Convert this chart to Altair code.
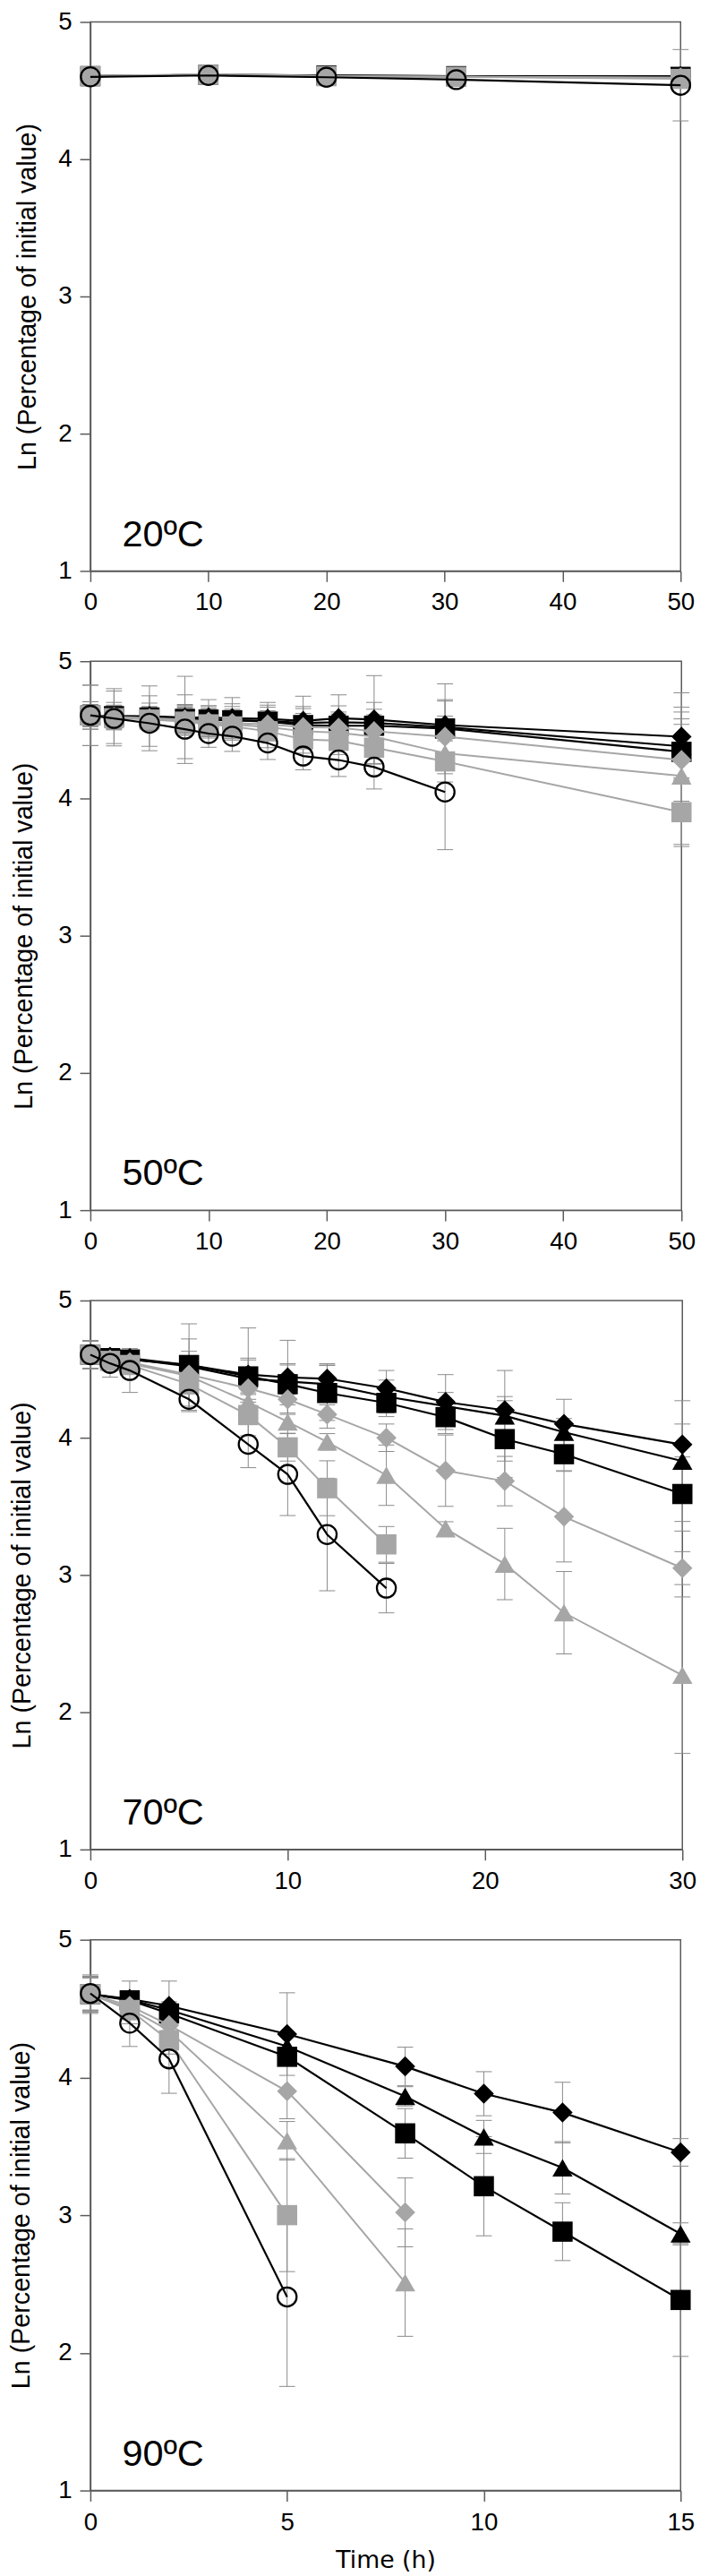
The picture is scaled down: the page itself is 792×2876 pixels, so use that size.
import altair as alt
import pandas as pd

# ---------------- data ----------------
SERIES = ["black_diamond", "black_triangle", "black_square",
          "gray_diamond", "gray_triangle", "gray_square", "open_circle"]
TEMPS = ["20ºC", "50ºC", "70ºC", "90ºC"]
Y_TITLE = "Ln (Percentage of initial value)"
X_TITLE = "Time (h)"

# 20 ºC
T20 = [0, 10, 20, 31, 50]
V20_bd = [4.605, 4.615, 4.61, 4.605, 4.605]
V20_bt = [4.605, 4.615, 4.605, 4.60, 4.60]
V20_bs = [4.605, 4.615, 4.61, 4.605, 4.60]
V20_gd = [4.605, 4.62, 4.605, 4.60, 4.595]
V20_gt = [4.605, 4.615, 4.60, 4.60, 4.59]
V20_gs = [4.605, 4.615, 4.605, 4.60, 4.585]
V20_oc = [4.60, 4.61, 4.597, 4.58, 4.539]
E20_bd = [0.03, 0.03, 0.04, 0.04, 0.05]
E20_bt = [0.03, 0.03, 0.04, 0.04, 0.05]
E20_bs = [0.03, 0.03, 0.04, 0.04, 0.05]
E20_gd = [0.03, 0.03, 0.04, 0.04, 0.05]
E20_gt = [0.03, 0.03, 0.04, 0.04, 0.05]
E20_gs = [0.03, 0.03, 0.04, 0.04, 0.06]
E20_oc = [0.03, 0.03, 0.04, 0.04, 0.26]

# 50 ºC
T50 = [0, 2, 5, 8, 10, 12, 15, 18, 21, 24, 30, 50]
V50_bd = [4.605, 4.60, 4.60, 4.59, 4.59, 4.585, 4.58, 4.565, 4.585, 4.575, 4.535, 4.45]
V50_bt = [4.605, 4.60, 4.595, 4.585, 4.575, 4.57, 4.565, 4.55, 4.555, 4.55, 4.52, 4.38]
V50_bs = [4.605, 4.60, 4.59, 4.58, 4.575, 4.57, 4.56, 4.535, 4.53, 4.53, 4.51, 4.34]
V50_gd = [4.605, 4.595, 4.585, 4.575, 4.56, 4.55, 4.54, 4.52, 4.515, 4.49, 4.45, 4.28]
V50_gt = [4.605, 4.59, 4.58, 4.565, 4.55, 4.54, 4.52, 4.49, 4.48, 4.45, 4.33, 4.165]
V50_gs = [4.605, 4.585, 4.575, 4.56, 4.54, 4.525, 4.49, 4.43, 4.42, 4.37, 4.27, 3.90]
V50_oc = [4.606, 4.583, 4.548, 4.505, 4.473, 4.453, 4.404, 4.309, 4.28, 4.229, 4.047]
E50_bd = [0.22, 0.2, 0.22, 0.3, 0.13, 0.15, 0.12, 0.18, 0.17, 0.32, 0.3, 0.32]
E50_bt = [0.1, 0.1, 0.1, 0.1, 0.1, 0.12, 0.1, 0.12, 0.12, 0.15, 0.2, 0.25]
E50_bs = [0.1, 0.08, 0.08, 0.1, 0.1, 0.1, 0.12, 0.12, 0.1, 0.12, 0.2, 0.2]
E50_gd = [0.08, 0.08, 0.08, 0.1, 0.1, 0.1, 0.1, 0.1, 0.1, 0.12, 0.15, 0.3]
E50_gt = [0.08, 0.08, 0.08, 0.1, 0.1, 0.1, 0.1, 0.1, 0.1, 0.12, 0.15, 0.5]
E50_gs = [0.08, 0.08, 0.08, 0.1, 0.1, 0.1, 0.12, 0.1, 0.1, 0.12, 0.15, 0.25]
E50_oc = [0.22, 0.2, 0.2, 0.25, 0.1, 0.11, 0.12, 0.1, 0.12, 0.16, 0.42]

# 70 ºC
T70 = [0, 1, 2, 5, 8, 10, 12, 15, 18, 21, 24, 30]
V70_bd = [4.605, 4.59, 4.58, 4.53, 4.46, 4.44, 4.43, 4.36, 4.26, 4.20, 4.10, 3.95]
V70_bt = [4.605, 4.585, 4.575, 4.52, 4.43, 4.41, 4.39, 4.30, 4.23, 4.16, 4.04, 3.83]
V70_bs = [4.605, 4.58, 4.57, 4.53, 4.447, 4.39, 4.326, 4.254, 4.15, 3.99, 3.88, 3.59]
V70_gd = [4.605, 4.57, 4.55, 4.46, 4.36, 4.28, 4.17, 4.00, 3.76, 3.684, 3.425, 3.05]
V70_gt = [4.605, 4.565, 4.54, 4.45, 4.26, 4.116, 3.97, 3.727, 3.338, 3.08, 2.725, 2.27]
V70_gs = [4.605, 4.56, 4.53, 4.39, 4.165, 3.93, 3.632, 3.223]
V70_oc = [4.605, 4.542, 4.49, 4.28, 3.952, 3.733, 3.295, 2.904]
E70_bd = [0.1, 0.05, 0.05, 0.3, 0.34, 0.27, 0.1, 0.13, 0.2, 0.1, 0.18, 0.15]
E70_bt = [0.1, 0.05, 0.05, 0.2, 0.15, 0.12, 0.15, 0.12, 0.1, 0.33, 0.1, 0.44]
E70_bs = [0.1, 0.05, 0.05, 0.1, 0.12, 0.15, 0.2, 0.1, 0.12, 0.28, 0.12, 0.27]
E70_gd = [0.1, 0.05, 0.05, 0.08, 0.1, 0.1, 0.1, 0.1, 0.26, 0.18, 0.33, 0.12]
E70_gt = [0.1, 0.05, 0.06, 0.1, 0.15, 0.2, 0.06, 0.22, 0.05, 0.26, 0.3, 0.57]
E70_gs = [0.1, 0.05, 0.06, 0.2, 0.15, 0.1, 0.2, 0.13]
E70_oc = [0.1, 0.1, 0.16, 0.08, 0.17, 0.3, 0.41, 0.18]

# 90 ºC
T90 = [0, 1, 2, 5, 8, 10, 12, 15]
V90_bd = [4.605, 4.57, 4.52, 4.315, 4.08, 3.882, 3.745, 3.456]
V90_bt = [4.605, 4.565, 4.49, 4.225, 3.863, 3.568, 3.344, 2.864]
V90_bs = [4.605, 4.56, 4.465, 4.15, 3.594, 3.21, 2.88, 2.384]
V90_gd = [4.605, 4.52, 4.38, 3.90, 3.02]
V90_gt = [4.605, 4.50, 4.34, 3.54, 2.51]
V90_gs = [4.605, 4.49, 4.27, 3.0]
V90_oc = [4.61, 4.395, 4.135, 2.406]
E90_bd = [0.14, 0.13, 0.18, 0.3, 0.14, 0.16, 0.22, 0.1]
E90_bt = [0.13, 0.06, 0.06, 0.1, 0.07, 0.12, 0.19, 0.08]
E90_bs = [0.13, 0.06, 0.06, 0.05, 0.18, 0.36, 0.21, 0.41]
E90_gd = [0.12, 0.08, 0.08, 0.2, 0.25]
E90_gt = [0.12, 0.08, 0.1, 0.14, 0.39]
E90_gs = [0.12, 0.1, 0.1, 0.41]
E90_oc = [0.12, 0.17, 0.25, 0.65]

PANELS = [
    (T20, [V20_bd, V20_bt, V20_bs, V20_gd, V20_gt, V20_gs, V20_oc],
          [E20_bd, E20_bt, E20_bs, E20_gd, E20_gt, E20_gs, E20_oc]),
    (T50, [V50_bd, V50_bt, V50_bs, V50_gd, V50_gt, V50_gs, V50_oc],
          [E50_bd, E50_bt, E50_bs, E50_gd, E50_gt, E50_gs, E50_oc]),
    (T70, [V70_bd, V70_bt, V70_bs, V70_gd, V70_gt, V70_gs, V70_oc],
          [E70_bd, E70_bt, E70_bs, E70_gd, E70_gt, E70_gs, E70_oc]),
    (T90, [V90_bd, V90_bt, V90_bs, V90_gd, V90_gt, V90_gs, V90_oc],
          [E90_bd, E90_bt, E90_bs, E90_gd, E90_gt, E90_gs, E90_oc]),
]
X_MAX = [50, 50, 30, 15]
X_STEP = [10, 10, 10, 5]

# ---------------- styles ----------------
BLACK = "#000000"
GRAY = "#a6a6a6"
ERR = "#8a8a8a"
AX = "#5a5a5a"
SHAPES = ["diamond", "triangle-up", "square", "diamond", "triangle-up", "square", "circle"]
COLORS = [BLACK, BLACK, BLACK, GRAY, GRAY, GRAY, BLACK]
GRAY_SERIES = SERIES[3:6]
BLACK_SERIES = SERIES[0:3]

WIDTHS = [667, 668, 669, 667]
HEIGHTS = [620, 620, 620, 622]
TITLE_PADS = [20, 24, 26, 27]


def panel_frame(times, vals, errs):
    rows = []
    for s, v, e in zip(SERIES, vals, errs):
        for t, y, d in zip(times, v, e):
            rows.append({"series": s, "t": t, "v": y, "lo": y - d, "hi": y + d})
    return pd.DataFrame(rows)


def make_panel(i):
    times, vals, errs = PANELS[i]
    df = panel_frame(times, vals, errs)
    xmax, step = X_MAX[i], X_STEP[i]
    w, h = WIDTHS[i], HEIGHTS[i]
    last = i == len(PANELS) - 1

    xaxis = alt.Axis(values=list(range(0, xmax + 1, step)), labelFlush=False)
    xscale = alt.Scale(domain=[0, xmax], nice=False, zero=False)
    if last:
        X = lambda f: alt.X(f, scale=xscale, axis=xaxis, title=X_TITLE)
    else:
        X = lambda f: alt.X(f, scale=xscale, axis=xaxis, title=None)
    yaxis = alt.Axis(values=[1, 2, 3, 4, 5], format="d", titlePadding=TITLE_PADS[i],
                     titleFont="Liberation Sans", titleFontSize=29)
    yscale = alt.Scale(domain=[1, 5], nice=False, zero=False)
    Y = lambda f: alt.Y(f, scale=yscale, axis=yaxis, title=Y_TITLE)

    color = alt.Color("series:N", scale=alt.Scale(domain=SERIES, range=COLORS), legend=None)
    shape = alt.Shape("series:N", scale=alt.Scale(domain=SERIES, range=SHAPES), legend=None)

    base = alt.Chart(df)
    bars = base.mark_rule(color=ERR, strokeWidth=1).encode(x=X("t:Q"), y=Y("lo:Q"), y2="hi:Q")
    cap_hi = base.mark_rule(color=ERR, strokeWidth=1, xOffset=-9, x2Offset=9).encode(
        x=X("t:Q"), x2="t:Q", y=Y("hi:Q"))
    cap_lo = base.mark_rule(color=ERR, strokeWidth=1, xOffset=-9, x2Offset=9).encode(
        x=X("t:Q"), x2="t:Q", y=Y("lo:Q"))

    black = base.transform_filter(alt.FieldOneOfPredicate(field="series", oneOf=BLACK_SERIES))
    gray = base.transform_filter(alt.FieldOneOfPredicate(field="series", oneOf=GRAY_SERIES))
    circ = base.transform_filter(alt.datum.series == "open_circle")

    black_lines = black.mark_line(strokeWidth=2.2).encode(x=X("t:Q"), y=Y("v:Q"), color=color)
    black_pts = black.mark_point(filled=True, size=520, opacity=1).encode(
        x=X("t:Q"), y=Y("v:Q"), color=color, shape=shape)
    gray_lines = gray.mark_line(strokeWidth=2).encode(x=X("t:Q"), y=Y("v:Q"), color=color)
    gray_pts = gray.mark_point(filled=True, size=520, opacity=1).encode(
        x=X("t:Q"), y=Y("v:Q"), color=color, shape=shape)
    circ_line = circ.mark_line(strokeWidth=2.2, color=BLACK).encode(x=X("t:Q"), y=Y("v:Q"))
    circ_pts = circ.mark_point(filled=False, shape="circle", size=460, stroke=BLACK,
                               strokeWidth=2.3, opacity=1).encode(x=X("t:Q"), y=Y("v:Q"))

    label = alt.Chart(pd.DataFrame({"label": [TEMPS[i]]})).mark_text(
        font="Liberation Sans", fontSize=42, align="left", baseline="alphabetic",
        color="black").encode(x=alt.value(36), y=alt.value(h - 28), text="label:N")

    return alt.layer(bars, cap_hi, cap_lo, black_lines, black_pts, gray_lines, gray_pts,
                     circ_line, circ_pts, label).properties(width=w, height=h)


chart = alt.concat(*[make_panel(i) for i in range(4)], columns=1, spacing=36, align="none").properties(
    padding={"left": 0, "top": -15, "right": 5, "bottom": 0}
).configure_axis(
    domainColor=AX, domainWidth=1.5, tickColor=AX, tickWidth=1.5, tickSize=12,
    labelFont="Liberation Sans", labelFontSize=28, labelColor="black", labelPadding=9,
    titleFont="DejaVu Sans", titleFontSize=27, titleFontWeight="normal", titleColor="black",
    grid=False,
).configure_axisX(labelPadding=10, titlePadding=16).configure_view(stroke=AX, strokeWidth=1.5)

chart.save("out.html", embed_options={"renderer": "svg", "actions": False})
